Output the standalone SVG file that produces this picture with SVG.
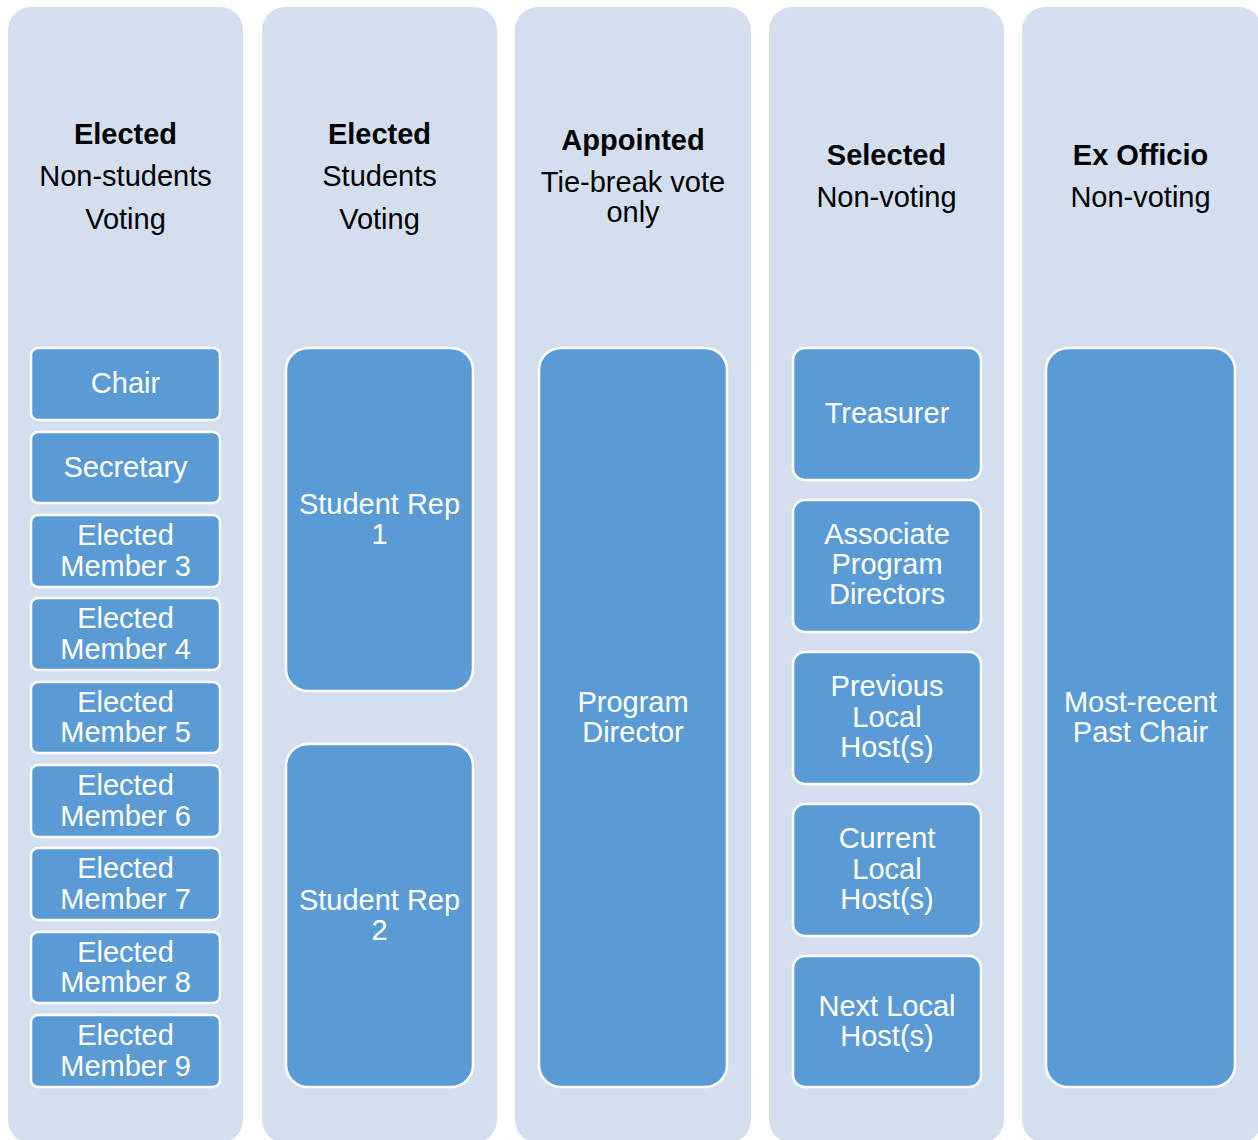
<svg xmlns="http://www.w3.org/2000/svg" width="1258" height="1140" viewBox="0 0 1258 1140">
<style>
.col{fill:#D3DEEF}
.box{fill:#5B9BD5;stroke:#FFFFFF;stroke-width:2.5}
.h{font-family:"Liberation Sans",Arial,sans-serif;font-size:29px;fill:#000;text-anchor:middle}
.hb{font-weight:bold}
.t{font-family:"Liberation Sans",Arial,sans-serif;font-size:29px;fill:#FFFFFF;text-anchor:middle}
</style>
<rect width="1258" height="1140" fill="#FFFFFF"/>
<g id="columns">
<rect class="col" x="8" y="7" width="235" height="1136" rx="23"/>
<rect class="col" x="262" y="7" width="235" height="1136" rx="23"/>
<rect class="col" x="515" y="7" width="236" height="1136" rx="23"/>
<rect class="col" x="769" y="7" width="235" height="1136" rx="23"/>
<rect class="col" x="1022" y="7" width="240" height="1136" rx="23"/>
</g>
<g id="headers">
<text class="h hb" x="125.5" y="144">Elected</text>
<text class="h" x="125.5" y="186">Non-students</text>
<text class="h" x="125.5" y="229">Voting</text>
<text class="h hb" x="379.5" y="144">Elected</text>
<text class="h" x="379.5" y="186">Students</text>
<text class="h" x="379.5" y="229">Voting</text>
<text class="h hb" x="633" y="150">Appointed</text>
<text class="h" x="633" y="192">Tie-break vote</text>
<text class="h" x="633" y="222">only</text>
<text class="h hb" x="886.5" y="165">Selected</text>
<text class="h" x="886.5" y="207">Non-voting</text>
<text class="h hb" x="1140.5" y="165">Ex Officio</text>
<text class="h" x="1140.5" y="207">Non-voting</text>
</g>
<g id="chair"><rect class="box" x="31" y="348" width="189" height="72" rx="7"/><text class="t" x="125.5" y="393">Chair</text></g>
<g id="secretary"><rect class="box" x="31" y="432" width="189" height="71" rx="7"/><text class="t" x="125.5" y="477">Secretary</text></g>
<g id="em3"><rect class="box" x="31" y="515" width="189" height="72" rx="7"/><text class="t" x="125.5" y="545">Elected</text><text class="t" x="125.5" y="576">Member 3</text></g>
<g id="em4"><rect class="box" x="31" y="598" width="189" height="72" rx="7"/><text class="t" x="125.5" y="628">Elected</text><text class="t" x="125.5" y="659">Member 4</text></g>
<g id="em5"><rect class="box" x="31" y="682" width="189" height="71" rx="7"/><text class="t" x="125.5" y="712">Elected</text><text class="t" x="125.5" y="742">Member 5</text></g>
<g id="em6"><rect class="box" x="31" y="765" width="189" height="72" rx="7"/><text class="t" x="125.5" y="795">Elected</text><text class="t" x="125.5" y="826">Member 6</text></g>
<g id="em7"><rect class="box" x="31" y="848" width="189" height="72" rx="7"/><text class="t" x="125.5" y="878">Elected</text><text class="t" x="125.5" y="909">Member 7</text></g>
<g id="em8"><rect class="box" x="31" y="932" width="189" height="71" rx="7"/><text class="t" x="125.5" y="962">Elected</text><text class="t" x="125.5" y="992">Member 8</text></g>
<g id="em9"><rect class="box" x="31" y="1015" width="189" height="72" rx="7"/><text class="t" x="125.5" y="1045">Elected</text><text class="t" x="125.5" y="1076">Member 9</text></g>
<g id="rep1"><rect class="box" x="286" y="348" width="187" height="343" rx="22"/><text class="t" x="379.5" y="514">Student Rep</text><text class="t" x="379.5" y="544">1</text></g>
<g id="rep2"><rect class="box" x="286" y="744" width="187" height="343" rx="22"/><text class="t" x="379.5" y="910">Student Rep</text><text class="t" x="379.5" y="940">2</text></g>
<g id="director"><rect class="box" x="539" y="348" width="188" height="739" rx="22"/><text class="t" x="633" y="712">Program</text><text class="t" x="633" y="742">Director</text></g>
<g id="treasurer"><rect class="box" x="793" y="348" width="188" height="132" rx="12"/><text class="t" x="887" y="423">Treasurer</text></g>
<g id="apd"><rect class="box" x="793" y="500" width="188" height="132" rx="12"/><text class="t" x="887" y="544">Associate</text><text class="t" x="887" y="574">Program</text><text class="t" x="887" y="604">Directors</text></g>
<g id="prevhost"><rect class="box" x="793" y="652" width="188" height="132" rx="12"/><text class="t" x="887" y="696">Previous</text><text class="t" x="887" y="727">Local</text><text class="t" x="887" y="757">Host(s)</text></g>
<g id="curhost"><rect class="box" x="793" y="804" width="188" height="132" rx="12"/><text class="t" x="887" y="848">Current</text><text class="t" x="887" y="879">Local</text><text class="t" x="887" y="909">Host(s)</text></g>
<g id="nexthost"><rect class="box" x="793" y="956" width="188" height="131" rx="12"/><text class="t" x="887" y="1016">Next Local</text><text class="t" x="887" y="1046">Host(s)</text></g>
<g id="pastchair"><rect class="box" x="1046" y="348" width="189" height="739" rx="22"/><text class="t" x="1140.5" y="712">Most-recent</text><text class="t" x="1140.5" y="742">Past Chair</text></g>
<g id="connectors"></g>
</svg>
